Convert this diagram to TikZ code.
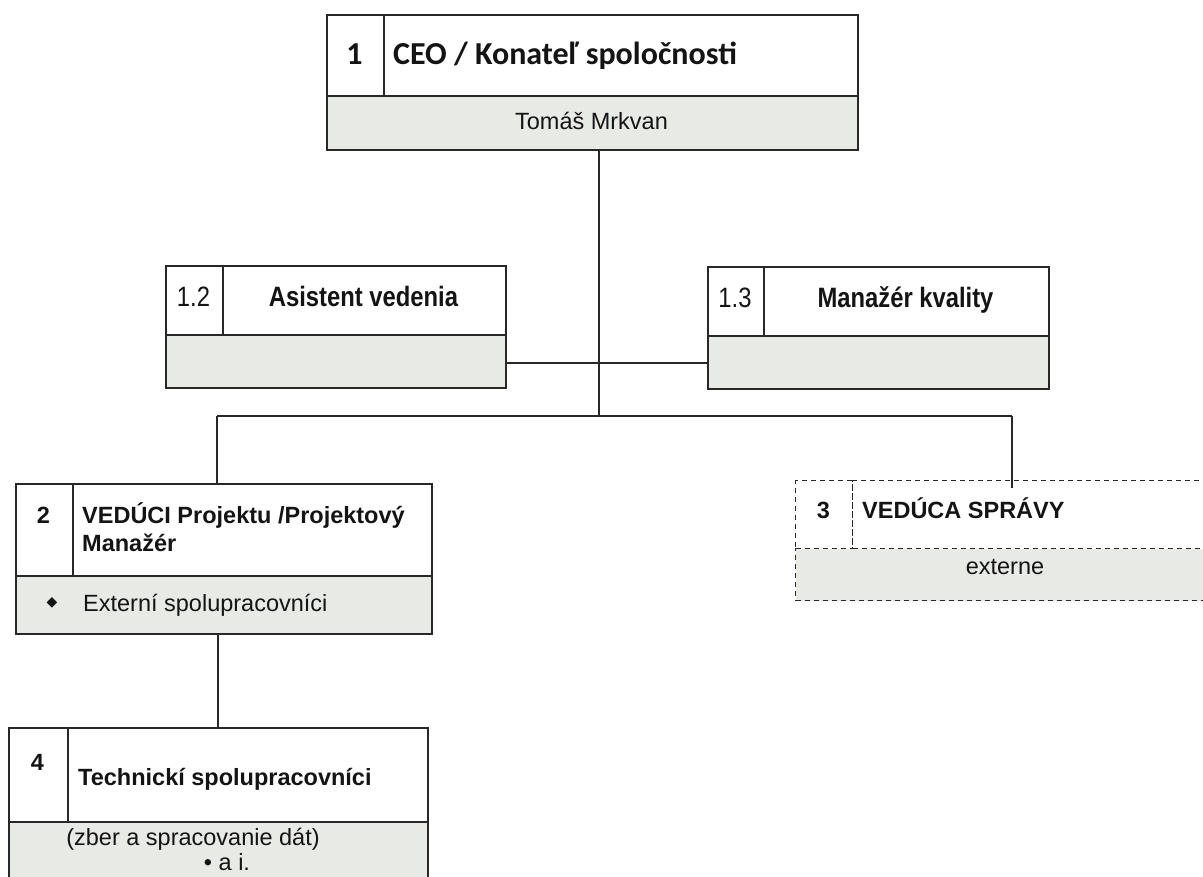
\documentclass[tikz,border=0pt]{standalone}
\usepackage{fontspec}
\setmainfont{Liberation Sans}
\newfontfamily\calfont{Carlito}
\newfontfamily\narrowfont[FakeStretch=0.85]{Liberation Sans}
\newfontfamily\dejavufont{DejaVu Sans}
\definecolor{cellgray}{RGB}{232,234,230}
\definecolor{ink}{RGB}{40,40,40}
\definecolor{txt}{RGB}{20,20,20}
\begin{document}
\begin{tikzpicture}[x=1pt,y=-1pt,
  cell/.style={draw=ink, line width=2.4pt, anchor=north west, inner sep=0pt, fill=white},
  gcell/.style={cell, fill=cellgray},
  dcell/.style={cell, line width=1.2pt, dash pattern=on 5pt off 4pt},
  dgcell/.style={dcell, fill=cellgray},
  conn/.style={draw=ink, line width=2.8pt},
  reg/.style={font=\fontsize{23.5}{28}\selectfont, text=txt, inner sep=0pt},
  bld/.style={font=\bfseries\fontsize{23.5}{28}\selectfont, text=txt, inner sep=0pt},
  nreg/.style={font=\narrowfont\fontsize{28}{32}\selectfont, text=txt, inner sep=0pt},
  nbld/.style={font=\narrowfont\bfseries\fontsize{28}{32}\selectfont, text=txt, inner sep=0pt},
  cal/.style={font=\calfont\bfseries\fontsize{32}{36}\selectfont, text=txt, inner sep=0pt}
]
\clip (0,0) rectangle (1203,877);
\fill[white] (0,0) rectangle (1203,877);

% CEO box
\node[cell, minimum width=57pt, minimum height=81pt] (ceoNum) at (326,14) {};
\node[cell, minimum width=474pt, minimum height=81pt] (ceoTitle) at (383,14) {};
\node[gcell, minimum width=531pt, minimum height=54pt] (ceoName) at (326,95) {};
\node[cal, anchor=base] (ceoNumT) at (354.5,65) {1};
\node[cal, anchor=base west] (ceoTitleT) at (393,65) {CEO / Konateľ spoločnosti};
\node[reg, anchor=base] (ceoNameT) at (591.5,129.5) {Tomáš Mrkvan};

% 1.2 box
\node[cell, minimum width=57pt, minimum height=69pt] (asNum) at (165,265) {};
\node[cell, minimum width=283pt, minimum height=69pt] (asTitle) at (222,265) {};
\node[gcell, minimum width=340pt, minimum height=53pt] (asGray) at (165,334) {};
\node[nreg, anchor=base] (asNumT) at (193.5,307) {1.2};
\node[nbld, anchor=base] (asTitleT) at (363.5,307) {Asistent vedenia};

% 1.3 box
\node[cell, minimum width=56pt, minimum height=69pt] (mkNum) at (707,266) {};
\node[cell, minimum width=285pt, minimum height=69pt] (mkTitle) at (763,266) {};
\node[gcell, minimum width=341pt, minimum height=53pt] (mkGray) at (707,335) {};
\node[nreg, anchor=base] (mkNumT) at (735,308) {1.3};
\node[nbld, anchor=base] (mkTitleT) at (905.5,308) {Manažér kvality};

% box 2
\node[cell, minimum width=57pt, minimum height=92pt] (pmNum) at (15,483) {};
\node[cell, minimum width=359pt, minimum height=92pt] (pmTitle) at (72,483) {};
\node[gcell, minimum width=416pt, minimum height=58pt] (pmGray) at (15,575) {};
\node[bld, anchor=base] (pmNumT) at (43.5,523.5) {2};
\node[bld, anchor=base west] (pmTitleA) at (82,523.5) {VEDÚCI Projektu /Projektový};
\node[bld, anchor=base west] (pmTitleB) at (82,551.5) {Manažér};
\node[font=\dejavufont\fontsize{14}{16}\selectfont, text=txt, inner sep=0pt] (pmBullet) at (52,603) {◆};
\node[reg, anchor=base west] (pmGrayT) at (83,611) {Externí spolupracovníci};

% box 3 (dashed)
\node[dgcell, minimum width=430pt, minimum height=52pt] (vsGray) at (795,548) {};
\node[dcell, minimum width=57pt, minimum height=68pt] (vsNum) at (795,480) {};
\node[dcell, minimum width=373pt, minimum height=68pt] (vsTitle) at (852,480) {};
\node[bld, anchor=base] (vsNumT) at (823.5,518.5) {3};
\node[bld, anchor=base west] (vsTitleT) at (862,518.5) {VEDÚCA SPRÁVY};
\node[reg, anchor=base] (vsGrayT) at (1005,574) {externe};

% box 4
\node[cell, minimum width=59pt, minimum height=94pt] (tcNum) at (8,727) {};
\node[cell, minimum width=360pt, minimum height=94pt] (tcTitle) at (67,727) {};
\node[gcell, minimum width=419pt, minimum height=80pt] (tcGray) at (8,821) {};
\node[bld, anchor=base] (tcNumT) at (37.5,770) {4};
\node[bld, anchor=base west] (tcTitleT) at (78,785.5) {Technickí spolupracovníci};
\node[reg, anchor=base] (tcGrayA) at (193,845.5) {(zber a spracovanie dát)};
\node[reg, anchor=base] (tcGrayB) at (227,870) {• a i.};

% connectors
\coordinate (hub) at (599,416);
\coordinate (barL) at (217,416);
\coordinate (barR) at (1012,416);
\coordinate (linkY) at (0,363);
\coordinate (vsIn) at (1012,488);
\coordinate (tcX) at (218,0);
\draw[conn] (ceoName.south -| hub) -- (hub);
\draw[conn] (asGray.east |- linkY) -- (mkGray.west |- linkY);
\draw[conn] (barL) -- (barR);
\draw[conn] (barL) -- (barL |- pmTitle.north);
\draw[conn] (barR) -- (vsIn);
\draw[conn] (pmGray.south -| tcX) -- (tcTitle.north -| tcX);
\end{tikzpicture}
\end{document}
